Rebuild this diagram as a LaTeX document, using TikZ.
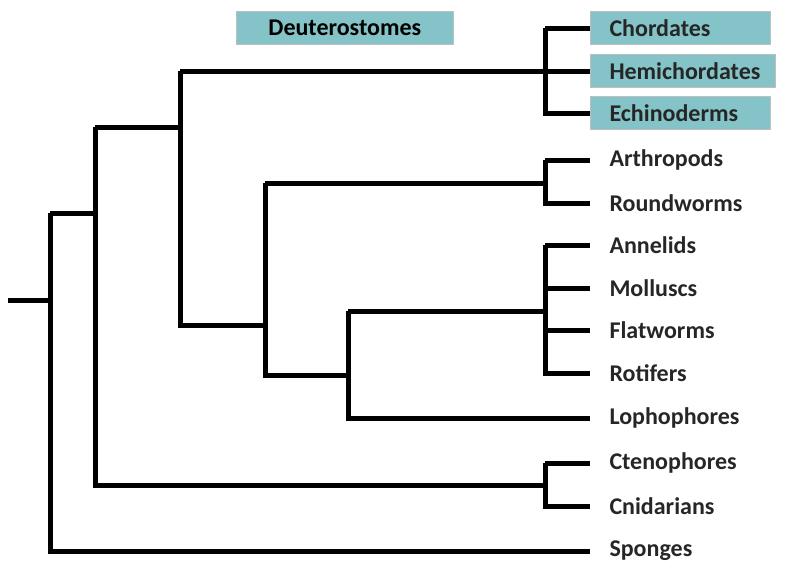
\documentclass[tikz,border=0pt]{standalone}
\usepackage{fontspec}
\setmainfont{Carlito}
\definecolor{cladeteal}{RGB}{132,196,200}
\begin{document}
\begin{tikzpicture}[
	x=1pt,y=-1pt,
	line width=5pt,
	font=\fontsize{24}{24}\selectfont\bfseries,
	taxon/.style={anchor=west, inner sep=0pt, text=black!85},
	clade/.style={fill=cladeteal, draw=gray!50, line width=0.6pt, minimum height=33pt, anchor=west, inner sep=0pt}
	]
\useasboundingbox (0,0) rectangle (800,566);

% boxes
\node[clade, minimum width=217pt] (deut) at (236,28) {Deuterostomes};
\node[clade, minimum width=180pt] (chordbox) at (590,28) {};
\node[clade, minimum width=185pt] (hemibox)  at (590,71) {};
\node[clade, minimum width=180pt] (echibox)  at (590,113) {};

% taxa
\foreach \n/\y/\t in {chord/28/Chordates, hemi/71/Hemichordates, echi/113/Echinoderms,
	arth/160/Arthropods, round/203/Roundworms, anne/245/Annelids, moll/288/Molluscs,
	flat/330/Flatworms, roti/373/Rotifers, loph/418/Lophophores, cten/463/Ctenophores,
	cnid/506/Cnidarians, spon/551/Sponges}
{
	\coordinate (\n) at (590,\y);
	\node[taxon] (\n_t) at (607,\y) {\t};
}

% inner nodes
\coordinate (root) at (8,300);
\coordinate (n1) at (50,300);
\coordinate (n2) at (95,213);
\coordinate (n3) at (180,127);
\coordinate (n4) at (545,71);
\coordinate (n5) at (265,325);
\coordinate (n6) at (545,183);
\coordinate (n7) at (348,375);
\coordinate (n8) at (545,311);
\coordinate (n9) at (545,485);

% branches
\draw (root) -- (n1);
\draw (n1 |- n2) -- (n2) (n1 |- n2) -- (n1 |- spon) -- (spon);
\draw (n2 |- n3) -- (n3) (n2 |- n3) -- (n2 |- n9) -- (n9);
\draw (n3 |- n4) -- (n4) (n3 |- n4) -- (n3 |- n5) -- (n5);
\draw (n5 |- n6) -- (n6) (n5 |- n6) -- (n5 |- n7) -- (n7);
\draw (n7 |- n8) -- (n8) (n7 |- n8) -- (n7 |- loph) -- (loph);
\draw (n4 |- chord) -- (chord) (n4 |- chord) -- (n4 |- echi) -- (echi) (n4) -- (hemi);
\draw (n6 |- arth) -- (arth) (n6 |- arth) -- (n6 |- round) -- (round);
\draw (n8 |- anne) -- (anne) (n8 |- anne) -- (n8 |- roti) -- (roti) (n8 |- moll) -- (moll) (n8 |- flat) -- (flat);
\draw (n9 |- cten) -- (cten) (n9 |- cten) -- (n9 |- cnid) -- (cnid);

\end{tikzpicture}
\end{document}
